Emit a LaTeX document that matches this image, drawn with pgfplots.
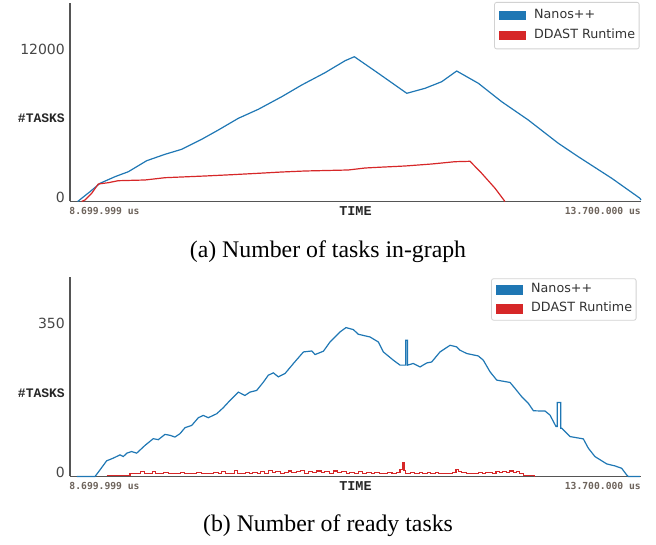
\documentclass[border=0pt]{standalone}
\usepackage{pgfplots}
\pgfplotsset{compat=1.18}
\usepackage{fontspec}
\setmainfont{Liberation Serif}
\newfontfamily\dejavu{DejaVu Sans}
\newfontfamily\dmono{DejaVu Sans Mono}
\newfontfamily\lmono{Liberation Mono}
\definecolor{nblue}{RGB}{31,119,180}
\definecolor{nred}{RGB}{214,39,40}
\definecolor{axgray}{RGB}{85,85,85}
\definecolor{numgray}{RGB}{70,70,70}
\definecolor{tgray}{RGB}{110,100,92}
\definecolor{leggray}{RGB}{210,210,210}
\pgfplotsset{
  myax/.style={
    scale only axis, width=571bp,
    xmin=8700, xmax=13700, ymin=0,
    axis x line=bottom, axis y line=left,
    axis line style={-, axgray, line width=1.3bp},
    xtick=\empty, major tick length=0pt,
    scaled y ticks=false, scaled x ticks=false,
    yticklabel style={anchor=east, inner sep=0pt, xshift=-5bp, yshift=4.5bp,
      font=\dejavu\fontsize{14bp}{16bp}\selectfont, text=numgray},
    clip=false,
    legend cell align=left,
    legend image code/.code={\fill[##1, sharp corners] (0bp,-4bp) rectangle (26bp,4bp); \path[draw=none, fill=none] (0bp,0bp) -- (35bp,0bp);},
    legend style={at={(rel axis cs:1,1)}, anchor=north east, xshift=-1.5bp, yshift=1bp,
      draw=leggray, rounded corners=2bp, line width=0.8bp, fill=white,
      inner xsep=4bp, inner ysep=7bp, row sep=7.5bp, column sep=0pt,
      nodes={inner sep=0pt, text height=9bp, text depth=3.5bp,
        font=\dejavu\fontsize{12.7bp}{14bp}\selectfont, text=black!80}},
  },
}
\tikzset{
  xlab/.style={inner sep=0pt, font=\dmono\bfseries\fontsize{9.7bp}{11bp}\selectfont, text=tgray},
  tlab/.style={inner sep=0pt, font=\lmono\bfseries\fontsize{13.5bp}{14bp}\selectfont, text=black!85},
}
\newcommand{\tasks}{{\lmono\bfseries\fontsize{13bp}{14bp}\selectfont\color{black!85}\#TASKS}}
\begin{document}
\begin{tikzpicture}
\path[use as bounding box] (0,0) rectangle (656bp,545bp);
% ---------------- (a) ----------------
\begin{axis}[myax, at={(70bp,343.5bp)}, anchor=south west, height=198.5bp,
  ymax=16100, ytick={0,6400,12000}, yticklabels={0,\tasks,12000}]
\addplot[color=nblue, line width=1.2bp] coordinates {
(8767,0) (8875,795) (8963,1476) (9094,2011) (9211,2417) (9372,3309) (9532,3828)
(9678,4233) (9853,5044) (9999,5799) (10174,6747) (10349,7477) (10554,8499)
(10729,9448) (10933,10446) (11109,11419) (11190,11743) (11400,10397) (11649,8775)
(11809,9181) (11955,9716) (12086,10584) (12276,9586) (12480,8094) (12713,6610)
(12976,4720) (13151,3633) (13444,1882) (13691,260) (13700,120)
};
\addlegendentry{Nanos++}
\addplot[color=nred, line width=1.2bp] coordinates {
(8802,0) (8831,122) (8890,665) (8948,1419) (9035,1525) (9123,1687) (9357,1744)
(9532,1930) (9882,2068) (10116,2173) (10349,2287) (10554,2392) (10758,2474)
(11137,2555) (11283,2716) (11400,2774) (11634,2879) (11867,3041) (12071,3228)
(12203,3260) (12305,2287) (12422,1071) (12509,0)
};
\addlegendentry{DDAST Runtime}
\node[xlab, anchor=base west, xshift=-0.7bp, yshift=-13.5bp] at (rel axis cs:0,0) {8.699.999 us};
\node[xlab, anchor=base east, yshift=-13.5bp] at (rel axis cs:1,0) {13.700.000 us};
\node[tlab, anchor=base, yshift=-14bp] at (rel axis cs:0.5,0) {TIME};
\end{axis}
% ---------------- (b) ----------------
\begin{axis}[myax, at={(70bp,68.5bp)}, anchor=south west, height=199.2bp,
  ymax=468.6, ytick={0,186,350}, yticklabels={0,\tasks,350},
  legend style={xshift=-3bp, yshift=-2bp, inner ysep=5bp, row sep=6.5bp}]
\addplot[color=nblue, line width=1.2bp] coordinates {
(8760,0) (8919,0) (8963,15.7) (9021,36.9) (9079,43.2) (9138,50.9) (9167,46.9)
(9197,54.9) (9240,58.7) (9284,54.9) (9357,73.2) (9429,89.0) (9473,86.6)
(9532,99.1) (9576,96.8) (9619,92.8) (9663,100.7) (9707,114.8) (9766,120.2)
(9824,138.3) (9867,143.7) (9911,138.3) (9985,147.7) (10042,161.8) (10101,178.9)
(10174,198.5) (10232,190.7) (10276,198.5) (10335,202.5) (10393,221.9) (10437,238.4)
(10481,243.8) (10524,234.4) (10583,242.3) (10656,265.7) (10744,293.0) (10817,295.3)
(10846,286.9) (10919,294.7) (10977,316.5) (11064,340.0) (11117,350.3) (11181,345.6)
(11225,334.6) (11327,328.2) (11400,316.5) (11444,293.0) (11531,273.7) (11590,262.0)
(11640,262) (11640,320.6) (11656,320.6) (11656,262) (11706,265.9) (11765,257.7)
(11824,267.1) (11867,269.4) (11940,293.0) (12028,308.7) (12086,304.9) (12115,297.1)
(12174,289.3) (12275,283.6) (12319,273.7) (12378,246.3) (12437,226.7) (12553,221.3)
(12597,207.2) (12656,187.5) (12714,171.9) (12758,154.6) (12860,153.9) (12903,144.5)
(12956,117.4) (12967,117.4) (12967,174.3) (12997,174.3) (12997,113.5) (13006,113.5)
(13079,93.9) (13195,88.5) (13239,66.5) (13297,46.8) (13400,29.6) (13472,24.9)
(13531,19.3) (13575,3.5) (13589,0) (13691,0)
};
\addlegendentry{Nanos++}
\addplot[color=nred, line width=1.1bp, const plot] coordinates {
(9021,2) (9080,2) (9140,3) (9200,3) (9225,7) (9260,8) (9290,7) (9320,11) (9350,7)
(9390,8) (9420,12) (9450,7) (9490,8) (9520,10) (9560,7) (9600,8) (9630,6) (9670,9)
(9700,7) (9740,8) (9780,7) (9810,10) (9850,7) (9890,8) (9920,7) (9960,9) (10000,7)
(10030,11) (10060,7) (10100,8) (10140,14) (10170,8) (10200,7) (10240,10) (10270,8)
(10300,9) (10340,7) (10370,12) (10400,8) (10440,14) (10470,9) (10500,12) (10540,8)
(10580,10) (10610,13) (10640,9) (10680,11) (10720,14) (10750,8) (10790,12) (10820,9)
(10860,13) (10900,9) (10930,11) (10970,8) (11010,13) (11040,9) (11080,12) (11120,8)
(11150,10) (11190,7) (11230,11) (11260,8) (11300,9) (11340,7) (11370,10) (11410,8)
(11440,7) (11480,9) (11520,8) (11560,9) (11590,16) (11610,33) (11625,14) (11640,8)
(11680,10) (11720,8) (11760,9) (11790,7) (11830,10) (11860,8) (11900,9) (11930,7)
(11970,8) (12010,7) (12050,9) (12080,16) (12100,12) (12130,9) (12170,8) (12200,7)
(12240,8) (12280,9) (12310,8) (12340,9) (12370,10) (12400,8) (12430,11) (12460,9)
(12490,12) (12520,10) (12550,13) (12580,9) (12610,11) (12640,7) (12670,3) (12700,2)
(12770,0)
};
\addlegendentry{DDAST Runtime}
\node[xlab, anchor=base west, xshift=-0.7bp, yshift=-13.5bp] at (rel axis cs:0,0) {8.699.999 us};
\node[xlab, anchor=base east, yshift=-13.5bp] at (rel axis cs:1,0) {13.700.000 us};
\node[tlab, anchor=base, yshift=-14bp] at (rel axis cs:0.5,0) {TIME};
\end{axis}
% captions
\node[anchor=base, inner sep=0pt, font=\fontsize{23.8bp}{28bp}\selectfont] at (328bp,287bp) {(a) Number of tasks in-graph};
\node[anchor=base, inner sep=0pt, font=\fontsize{23.8bp}{28bp}\selectfont] at (328bp,13.3bp) {(b) Number of ready tasks};
\end{tikzpicture}
\end{document}
